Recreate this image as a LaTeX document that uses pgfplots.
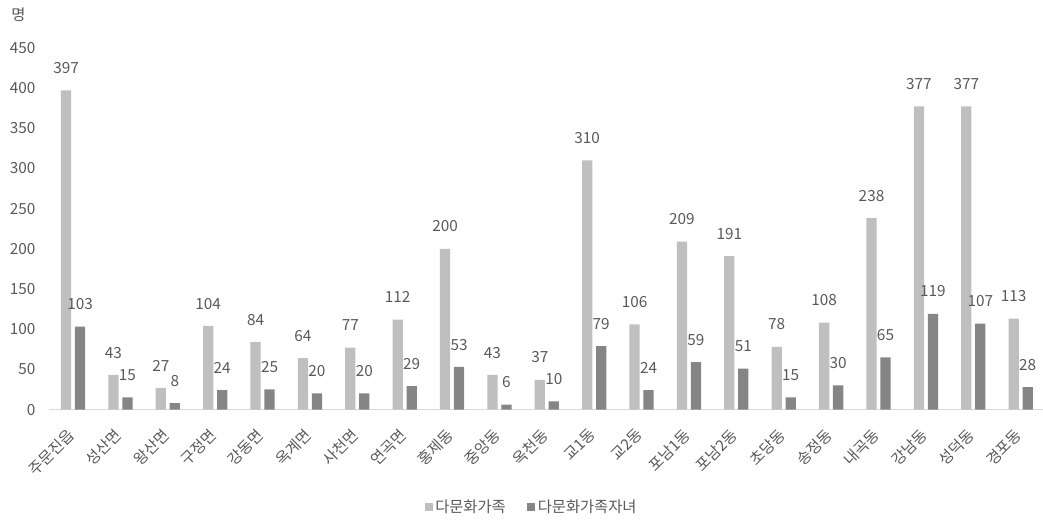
\documentclass[border=0pt]{standalone}
\usepackage{fontspec}
\setmainfont{Noto Sans CJK KR}
\usepackage{pgfplots}
\pgfplotsset{compat=1.18}
\usepackage{pgfplotstable}
\definecolor{lightbar}{HTML}{BFBFBF}
\definecolor{darkbar}{HTML}{858585}
\definecolor{txt}{HTML}{595959}
\definecolor{axisln}{HTML}{D9D9D9}

\pgfplotstableread{
x fam kids
0 397 103
1 43 15
2 27 8
3 104 24
4 84 25
5 64 20
6 77 20
7 112 29
8 200 53
9 43 6
10 37 10
11 310 79
12 106 24
13 209 59
14 191 51
15 78 15
16 108 30
17 238 65
18 377 119
19 377 107
20 113 28
}\datatable

\begin{document}
\begin{tikzpicture}[font=\fontsize{11.5pt}{13pt}\selectfont, text=txt]
\path[use as bounding box] (0,0) rectangle (782.25pt,389.25pt);
\begin{axis}[
    at={(37pt,82.1pt)}, anchor=south west,
    scale only axis,
    width=746.25pt, height=271.3pt,
    ybar=2.8pt, bar width=7.7pt,
    xmin=-0.5, xmax=20.5,
    ymin=0, ymax=450,
    ytick={0,50,...,450},
    xtick=data,
    xticklabels={주문진읍,성산면,왕산면,구정면,강동면,옥계면,사천면,연곡면,홍제동,중앙동,옥천동,교1동,교2동,포남1동,포남2동,초당동,송정동,내곡동,강남동,성덕동,경포동},
    axis x line=bottom, axis y line=left,
    x axis line style={draw=axisln, -, line width=1pt},
    y axis line style={draw=none},
    major tick length=0pt,
    /pgf/number format/assume math mode=true,
    yticklabel style={text=txt, xshift=-7pt},
    xticklabel style={text=txt, inner sep=0pt, xshift=-5pt, yshift=-13pt, rotate=45, anchor=north east},
    nodes near coords,
    every node near coord/.append style={text=txt, yshift=9pt},
    legend style={at={(0.485,-0.27)}, anchor=center, draw=none, fill=none,
      legend columns=2, text=txt,
      /tikz/every even column/.append style={column sep=14pt}},
    legend image code/.code={\fill[#1] (0pt,-3pt) rectangle (6pt,3pt);},
    clip=false,
]
\addplot[fill=lightbar, draw=none] table[x=x, y=fam] {\datatable};
\addplot[fill=darkbar, draw=none] table[x=x, y=kids] {\datatable};
\legend{다문화가족, 다문화가족자녀}
\node[anchor=center, text=txt] at (rel axis cs:-0.031,1.092) {명};
\end{axis}
\end{tikzpicture}
\end{document}
